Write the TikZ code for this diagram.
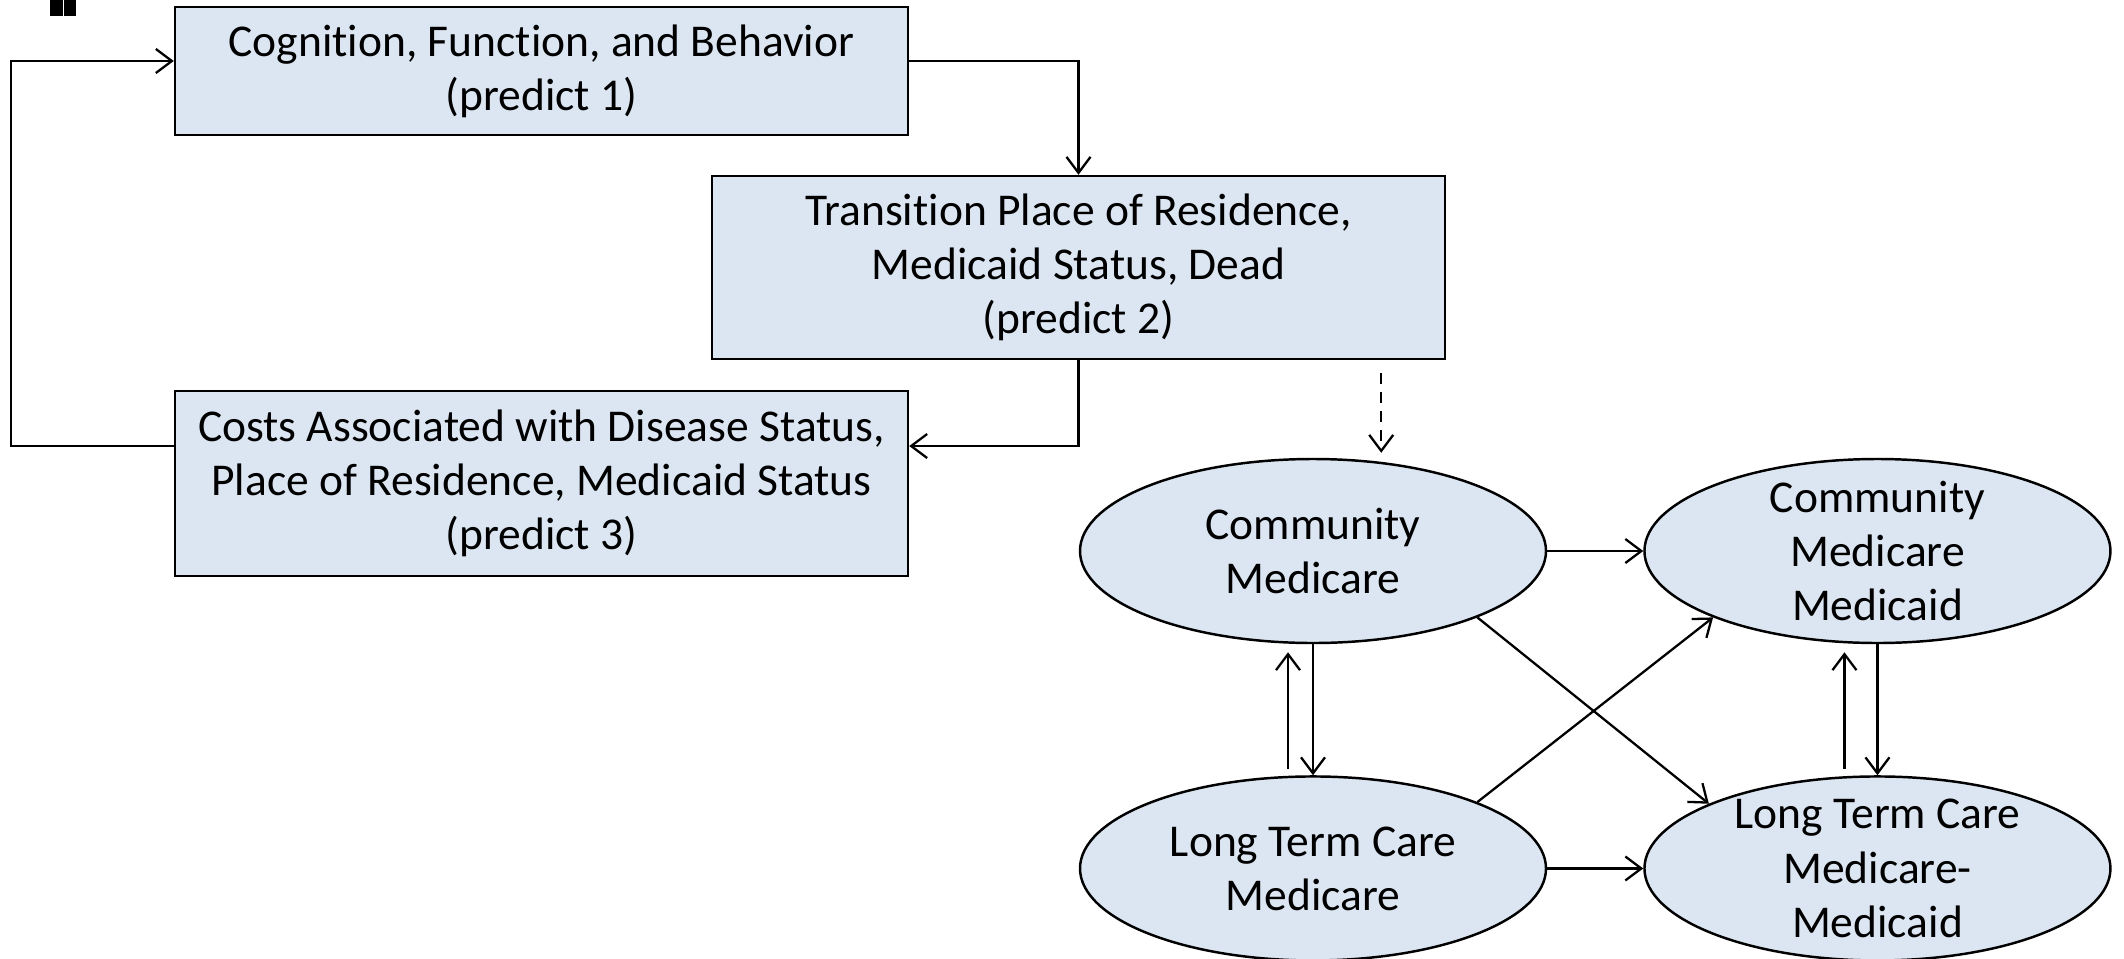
\documentclass[tikz,border=0pt]{standalone}
\usepackage{fontspec}
\setmainfont[RawFeature={-liga;-dlig;-clig;-calt}]{Carlito}
\usetikzlibrary{arrows.meta,calc,positioning,shapes.geometric}
\definecolor{boxBlue}{HTML}{DCE6F2}
\tikzset{
  every node/.style={font=\fontsize{12.95}{15.4}\selectfont},
  procbox/.style={draw=black, fill=boxBlue, line width=0.7pt, minimum width=7.33cm,
                  align=center, inner sep=0pt},
  stateell/.style={ellipse, draw=black, fill=boxBlue, line width=0.7pt,
                   minimum width=4.66cm, minimum height=1.84cm, inner sep=-3mm, align=center},
  flow/.style={-{Straight Barb[length=1.6mm,width=2.4mm]}, line width=0.65pt, draw=black},
  dashflow/.style={flow, dash pattern=on 1.1mm off 0.8mm},
}

\begin{document}
\begin{tikzpicture}[x=1cm,y=1cm]
  \useasboundingbox (0,0) rectangle (21.24,-9.58);

  % cut-off mark in the corner
  \fill (0.50,0) rectangle (0.63,-0.16);
  \fill (0.64,0) rectangle (0.76,-0.16);

  % ── Prediction steps ──
  \node[procbox, minimum height=1.28cm] (cog) at (5.415,-0.71)
    {Cognition, Function, and Behavior\\(predict 1)};
  \node[procbox, minimum height=1.83cm] (trans) at (10.785,-2.675)
    {Transition Place of Residence,\\Medicaid Status, Dead\\(predict 2)};
  \node[procbox, minimum height=1.85cm] (cost) at (5.415,-4.835)
    {Costs Associated with Disease Status,\\Place of Residence, Medicaid Status\\(predict 3)};

  % ── Residence / coverage states ──
  \node[stateell] (cm) at (13.13,-5.51) {Community\\Medicare};
  \node[stateell, right=0.96cm of cm] (cmm) {Community\\Medicare\\Medicaid};
  \node[stateell, below=1.31cm of cm] (ltcm) {Long Term Care\\Medicare};
  \node[stateell, right=0.96cm of ltcm] (ltcmm) {Long Term Care\\Medicare-\\Medicaid};

  % ── Loop between the steps ──
  \coordinate (loopx) at (0.11,0);
  \draw[flow] ([yshift=1mm]cog.east) -| (trans.north);
  \draw[flow] (trans.south) |- ([yshift=3.75mm]cost.east);
  \draw[flow] ([yshift=3.75mm]cost.west) -- ([yshift=3.75mm]cost.west -| loopx)
    |- ([yshift=1mm]cog.west);

  % step 2 feeds the state model
  \coordinate (dashtop) at ([xshift=-6.5mm,yshift=-1.3mm]trans.south east);
  \draw[dashflow] (dashtop) -- ([yshift=0.5mm]dashtop |- cm.north);

  % ── Transitions between states ──
  \draw[flow] (cm.east) -- (cmm.west);
  \draw[flow] (ltcm.east) -- (ltcmm.west);
  \draw[flow] (cm.south) -- (ltcm.north);
  \draw[flow, shorten <=0.6mm, shorten >=0.8mm] ([xshift=-2.5mm]ltcm.north) -- ([xshift=-2.5mm]cm.south);
  \draw[flow] (cmm.south) -- (ltcmm.north);
  \draw[flow, shorten <=0.6mm, shorten >=0.8mm] ([xshift=-3.3mm]ltcmm.north) -- ([xshift=-3.3mm]cmm.south);
  \draw[flow] (cm.-22) -- (ltcmm.159);
  \draw[flow] (ltcm.22) -- (cmm.-158);
\end{tikzpicture}
\end{document}
